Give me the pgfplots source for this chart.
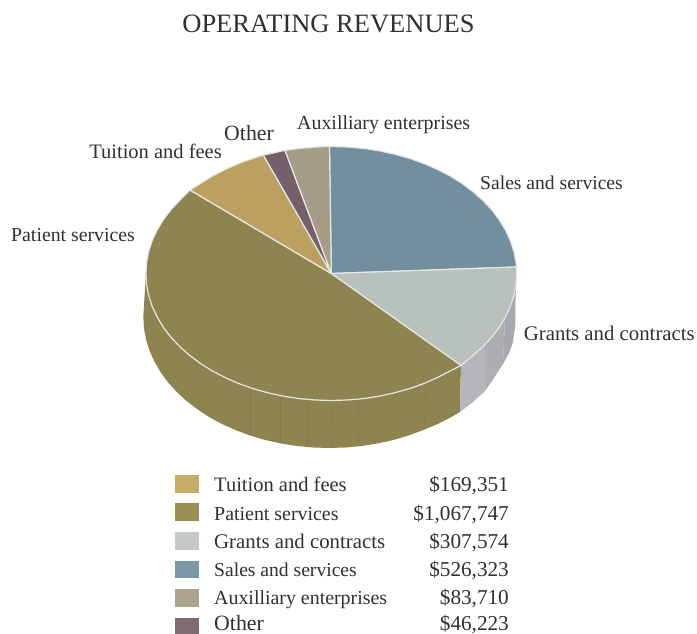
\documentclass[border=0pt]{standalone}
\usepackage{pgfplots}
\pgfplotsset{compat=1.18}
\usepackage{fontspec}
\setmainfont{Liberation Serif}
\definecolor{sales}{HTML}{728F9F}
\definecolor{grants}{HTML}{B8C1BC}
\definecolor{patient}{HTML}{8E844F}
\definecolor{tuition}{HTML}{BBA060}
\definecolor{other}{HTML}{73606A}
\definecolor{aux}{HTML}{A59D87}
\definecolor{rim}{HTML}{E6E8E6}
\definecolor{wallA}{HTML}{B5B6BA}
\definecolor{wallB}{HTML}{ADAEB2}
\definecolor{wallC}{HTML}{A8A9AE}
\definecolor{seam}{HTML}{847A49}
\definecolor{ink}{HTML}{303030}
\tikzset{
  lbl/.style={inner sep=0pt,text=ink,font=\fontsize{#1}{24}\selectfont},
  lbl/.default=20.8,
}
\begin{document}
\begin{tikzpicture}
\begin{axis}[
  width=697pt,height=634pt,scale only axis,
  xmin=0,xmax=697,ymin=0,ymax=634,y dir=reverse,
  axis lines=none,ticks=none,clip=false,
  every axis plot/.append style={line join=round},
]
% side wall, patient services
\addplot[fill=patient,draw=none,no marks] coordinates {
 (145.9,273.5)(146.6,284.6)(148.7,295.5)(152.2,306.4)(157.1,316.9)(163.3,327.2)(170.7,337.0)(179.4,346.3)
 (189.3,355.1)(200.2,363.3)(212.1,370.8)(225.0,377.5)(238.6,383.5)(252.9,388.6)(267.9,392.8)(283.3,396.2)
 (299.1,398.6)(315.1,400.0)(331.3,400.5)(347.5,400.0)(363.5,398.6)(379.3,396.2)(394.7,392.8)(409.7,388.6)
 (424.0,383.5)(437.6,377.5)(450.5,370.8)(461.0,365.5)
 (460.0,412.0)(448.9,418.4)(436.0,424.8)(422.3,430.4)(407.9,435.7)(392.9,440.1)(377.4,443.5)(361.6,446.0)
 (345.5,447.5)(329.3,448.0)(313.1,447.5)(297.0,446.0)(281.2,443.5)(265.7,440.1)(250.7,435.7)(236.3,430.4)
 (222.6,424.3)(209.7,417.4)(197.8,409.6)(186.8,401.2)(176.9,392.1)(168.2,382.5)(160.7,372.4)(154.5,361.8)
 (149.6,350.9)(146.1,339.7)(144.0,328.4)(143.3,317.0)
} -- cycle;
% faint seams on the wall
\addplot[draw=seam,line width=.3pt,no marks] coordinates {(250.5,388)(250.5,435)};
\addplot[draw=seam,line width=.3pt,no marks] coordinates {(280,395.5)(280,442.8)};
\addplot[draw=seam,line width=.3pt,no marks] coordinates {(306.7,399.3)(306.7,446.8)};
\addplot[draw=seam,line width=.3pt,no marks] coordinates {(333,400.5)(331.5,448)};
\addplot[draw=seam,line width=.3pt,no marks] coordinates {(359,399)(358.5,446.3)};
\addplot[draw=seam,line width=.3pt,no marks] coordinates {(387,394.5)(386.5,441.5)};
\addplot[draw=seam,line width=.3pt,no marks] coordinates {(425,383)(424.5,430)};
% side wall, grants and contracts
\addplot[fill=wallA,draw=none,no marks] coordinates {
 (461.0,365.5)(473.3,355.1)(485.0,344.5)(485.0,391.0)(471.8,403.0)(460.0,412.0)} -- cycle;
\addplot[fill=wallB,draw=none,no marks] coordinates {
 (485.0,344.5)(491.9,337.0)(499.3,327.2)(505.0,317.0)(503.0,364.0)(494.0,378.0)(485.0,391.0)} -- cycle;
\addplot[fill=wallC,draw=none,no marks] coordinates {
 (505.0,317.0)(510.4,306.4)(513.9,295.5)(516.0,284.6)(516.7,273.5)(515.5,300.0)(515.3,325.0)(513.0,342.0)(509.5,352.0)(503.0,364.0)} -- cycle;
% top face
\addplot[fill=sales,draw=rim,line width=1.2pt,no marks] coordinates {
 (331.3,273.5)(329.5,146.5)(331.3,146.5)(347.5,147.0)(363.5,148.4)(379.3,150.8)(394.7,154.2)(409.7,158.4)(424.0,163.5)
 (437.6,169.5)(450.5,176.2)(462.4,183.7)(473.3,191.9)(483.2,200.7)(491.9,210.0)(499.3,219.8)(505.5,230.1)
 (510.4,240.6)(513.9,251.5)(516.0,262.4)(516.4,267.0)} -- cycle;
\addplot[fill=grants,draw=rim,line width=1.2pt,no marks] coordinates {
 (331.3,273.5)(516.4,267.0)(516.7,273.5)(516.0,284.6)(513.9,295.5)(510.4,306.4)(505.5,316.9)(499.3,327.2)(491.9,337.0)
 (483.2,346.3)(473.3,355.1)(461.0,365.5)} -- cycle;
\addplot[fill=patient,draw=rim,line width=1.2pt,no marks] coordinates {
 (331.3,273.5)(461.0,365.5)(450.5,370.8)(437.6,377.5)(424.0,383.5)(409.7,388.6)(394.7,392.8)(379.3,396.2)(363.5,398.6)
 (347.5,400.0)(331.3,400.5)(315.1,400.0)(299.1,398.6)(283.3,396.2)(267.9,392.8)(252.9,388.6)(238.6,383.5)
 (225.0,377.5)(212.1,370.8)(200.2,363.3)(189.3,355.1)(179.4,346.3)(170.7,337.0)(163.3,327.2)(157.1,316.9)
 (152.2,306.4)(148.7,295.5)(146.6,284.6)(145.9,273.5)(146.6,262.4)(148.7,251.5)(152.2,240.6)(157.1,230.1)
 (163.3,219.8)(170.7,210.0)(179.4,200.7)(190.0,190.0)} -- cycle;
\addplot[fill=tuition,draw=rim,line width=1.2pt,no marks] coordinates {
 (331.3,273.5)(190.0,190.0)(200.2,183.7)(212.1,176.2)(225.0,169.5)(238.6,163.5)(252.9,158.4)(263.3,155.0)} -- cycle;
\addplot[fill=other,draw=rim,line width=1.2pt,no marks] coordinates {
 (331.3,273.5)(263.3,155.0)(267.9,154.2)(285.0,150.3)} -- cycle;
\addplot[fill=aux,draw=rim,line width=1.2pt,no marks] coordinates {
 (331.3,273.5)(285.0,150.3)(299.1,148.4)(315.1,147.0)(329.5,146.5)} -- cycle;
% legend swatches
\addplot[fill={rgb,255:red,201;green,170;blue,102},draw=none,no marks] coordinates {(175,475)(199,475)(199,493)(175,493)} -- cycle;
\addplot[fill={rgb,255:red,152;green,143;blue,85},draw=none,no marks] coordinates {(175,503)(199,503)(199,521)(175,521)} -- cycle;
\addplot[fill={rgb,255:red,196;green,203;blue,199},draw=none,no marks] coordinates {(175,532)(199,532)(199,550)(175,550)} -- cycle;
\addplot[fill={rgb,255:red,122;green,151;blue,166},draw=none,no marks] coordinates {(175,561)(199,561)(199,578)(175,578)} -- cycle;
\addplot[fill={rgb,255:red,173;green,163;blue,141},draw=none,no marks] coordinates {(175,589)(199,589)(199,607)(175,607)} -- cycle;
\addplot[fill={rgb,255:red,126;green,106;blue,114},draw=none,no marks] coordinates {(175,618)(199,618)(199,634)(175,634)} -- cycle;
% text
\node[lbl=26.5,anchor=base] at (axis cs:328.5,33) {OPERATING REVENUES};
\node[lbl=21.8,anchor=base west] at (axis cs:224,141) {Other};
\node[lbl=19.9,anchor=base west] at (axis cs:297,130) {Auxilliary enterprises};
\node[lbl=20.5,anchor=base east] at (axis cs:222,158) {Tuition and fees};
\node[lbl=19.6,anchor=base west] at (axis cs:480,189) {Sales and services};
\node[lbl=19.8,anchor=base west] at (axis cs:11,241) {Patient services};
\node[lbl,anchor=base east] at (axis cs:695,340) {Grants and contracts};
\node[lbl=20.5,anchor=base west] at (axis cs:214,491) {Tuition and fees};
\node[lbl=19.9,anchor=base west] at (axis cs:214,520) {Patient services};
\node[lbl,anchor=base west] at (axis cs:214,548) {Grants and contracts};
\node[lbl=19.6,anchor=base west] at (axis cs:214,576) {Sales and services};
\node[lbl=19.9,anchor=base west] at (axis cs:214,604) {Auxilliary enterprises};
\node[lbl=21.8,anchor=base west] at (axis cs:214,630) {Other};
\node[lbl=21.2,anchor=base east] at (axis cs:509,491) {\$169,351};
\node[lbl=21.2,anchor=base east] at (axis cs:509,520) {\$1,067,747};
\node[lbl=21.2,anchor=base east] at (axis cs:509,548) {\$307,574};
\node[lbl=21.2,anchor=base east] at (axis cs:509,576) {\$526,323};
\node[lbl=21.2,anchor=base east] at (axis cs:509,604) {\$83,710};
\node[lbl=21.2,anchor=base east] at (axis cs:509,630) {\$46,223};
\end{axis}
\pgfresetboundingbox
\path[use as bounding box] (0,0) rectangle (697pt,634pt);
\end{tikzpicture}
\end{document}
